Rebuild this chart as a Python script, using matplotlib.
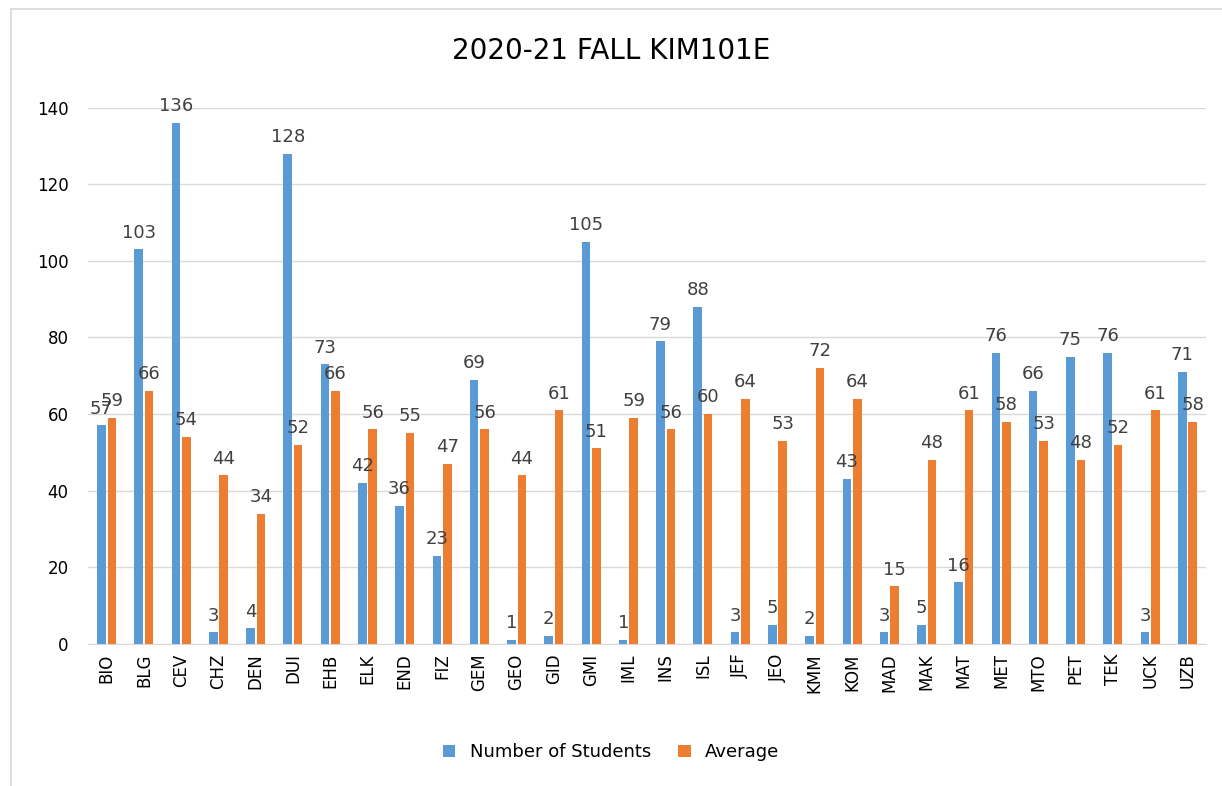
import numpy as np
import matplotlib.pyplot as plt
from matplotlib.lines import Line2D

departments = ['BIO', 'BLG', 'CEV', 'CHZ', 'DEN', 'DUI', 'EHB', 'ELK', 'END', 'FIZ',
               'GEM', 'GEO', 'GID', 'GMI', 'IML', 'INS', 'ISL', 'JEF', 'JEO', 'KMM',
               'KOM', 'MAD', 'MAK', 'MAT', 'MET', 'MTO', 'PET', 'TEK', 'UCK', 'UZB']
num_students = [57, 103, 136, 3, 4, 128, 73, 42, 36, 23,
                69, 1, 2, 105, 1, 79, 88, 3, 5, 2,
                43, 3, 5, 16, 76, 66, 75, 76, 3, 71]
average = [59, 66, 54, 44, 34, 52, 66, 56, 55, 47,
           56, 44, 61, 51, 59, 56, 60, 64, 53, 72,
           64, 15, 48, 61, 58, 53, 48, 52, 61, 58]

blue = '#5B9BD5'
orange = '#ED7D31'
txt = '#404040'

fig = plt.figure(figsize=(12.22, 7.86), dpi=100)
ax = fig.add_axes([0.072, 0.181, 0.915, 0.682])

x = np.arange(len(departments))
w = 0.23
b1 = ax.bar(x - 0.14, num_students, w, color=blue, label='Number of Students', zorder=3)
b2 = ax.bar(x + 0.14, average, w, color=orange, label='Average', zorder=3)

for rects, vals in ((b1, num_students), (b2, average)):
    for r, v in zip(rects, vals):
        ax.text(r.get_x() + r.get_width() / 2, v + 2, str(v), ha='center', va='bottom',
                fontsize=13, color=txt, zorder=4)

ax.set_ylim(0, 140)
ax.set_xlim(-0.5, len(departments) - 0.5)
ax.set_yticks(range(0, 141, 20))
ax.yaxis.grid(True, color='#D9D9D9', linewidth=1, zorder=0)
ax.set_xticks(x)
ax.set_xticklabels(departments, rotation=90, fontsize=12, color='black')
ax.tick_params(axis='y', labelsize=12, length=0, labelcolor='black', pad=14)
ax.tick_params(axis='x', length=0, pad=7)
for s in ['top', 'right', 'left']:
    ax.spines[s].set_visible(False)
ax.spines['bottom'].set_color('#D9D9D9')

fig.text(0.5, 0.935, '2020-21 FALL KIM101E', ha='center', va='center', fontsize=20, color='black')
fig.legend(handles=[b1, b2], loc='center', bbox_to_anchor=(0.5, 0.043), ncol=2,
           frameon=False, fontsize=13, handlelength=0.7, handleheight=0.7, columnspacing=1.5)

# chart border (only left and top edges fall inside the picture)
fig.lines.append(Line2D([0.009, 0.009], [0.0, 0.988], transform=fig.transFigure,
                        color='#D9D9D9', linewidth=1.2))
fig.lines.append(Line2D([0.009, 1.0], [0.988, 0.988], transform=fig.transFigure,
                        color='#D9D9D9', linewidth=1.2))

fig.savefig('out.png', dpi=100)
